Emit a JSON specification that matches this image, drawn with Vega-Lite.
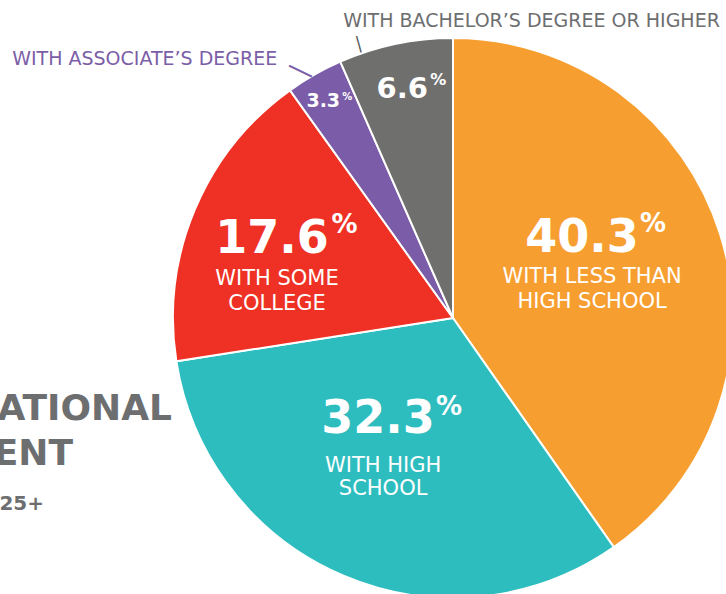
{
  "$schema": "https://vega.github.io/schema/vega-lite/v6.json",
  "width": 546,
  "height": 552,
  "autosize": {"type": "none"},
  "padding": {"left": 180, "top": 42, "right": 0, "bottom": 0},
  "background": "white",
  "config": {"view": {"stroke": null}},
  "data": {"values": [
    {"cat": "Less than high school", "pct": 40.3, "idx": 1, "sub": "WITH LESS THAN\nHIGH SCHOOL"},
    {"cat": "High school", "pct": 32.3, "idx": 2, "sub": "WITH HIGH\nSCHOOL"},
    {"cat": "Some college", "pct": 17.6, "idx": 3, "sub": "WITH SOME\nCOLLEGE"},
    {"cat": "Associate's degree", "pct": 3.3, "idx": 4, "sub": "WITH ASSOCIATE’S DEGREE"},
    {"cat": "Bachelor's degree or higher", "pct": 6.6, "idx": 5, "sub": "WITH BACHELOR’S DEGREE OR HIGHER"}
  ]},
  "layer": [
    {
      "mark": {"type": "arc", "outerRadius": 280, "stroke": "white", "strokeWidth": 2},
      "encoding": {
        "theta": {"field": "pct", "type": "quantitative", "stack": true},
        "order": {"field": "idx", "type": "quantitative"},
        "color": {"field": "cat", "type": "nominal", "legend": null,
          "scale": {"domain": ["Less than high school", "High school", "Some college", "Associate's degree", "Bachelor's degree or higher"],
                    "range": ["#F79E31", "#2EBDBF", "#EE3124", "#7A5CA8", "#6F6F6E"]}}
      }
    },
    {
      "mark": {"type": "text", "radius": 150, "dx": -14, "dy": -21, "font": "DejaVu Sans", "fontWeight": "bold", "fontSize": 46, "fill": "white", "align": "center", "baseline": "alphabetic"},
      "encoding": {
        "theta": {"field": "pct", "type": "quantitative", "stack": true},
        "order": {"field": "idx", "type": "quantitative"},
        "text": {"condition": {"test": "datum.idx === 1", "field": "pct", "type": "quantitative", "format": ".1f"}, "value": ""}
      }
    },
    {
      "mark": {"type": "text", "radius": 150, "dx": 44, "dy": -41, "font": "DejaVu Sans", "fontWeight": "bold", "fontSize": 26, "fill": "white", "align": "left", "baseline": "alphabetic"},
      "encoding": {
        "theta": {"field": "pct", "type": "quantitative", "stack": true},
        "order": {"field": "idx", "type": "quantitative"},
        "text": {"condition": {"test": "datum.idx === 1", "value": "%"}, "value": ""}
      }
    },
    {
      "mark": {"type": "text", "radius": 150, "dx": -4, "dy": 10, "font": "DejaVu Sans", "fontSize": 21, "fill": "white", "align": "center", "baseline": "alphabetic", "lineBreak": "\n", "lineHeight": 25},
      "encoding": {
        "theta": {"field": "pct", "type": "quantitative", "stack": true},
        "order": {"field": "idx", "type": "quantitative"},
        "text": {"condition": {"test": "datum.idx === 1", "field": "sub", "type": "nominal"}, "value": ""}
      }
    },
    {
      "mark": {"type": "text", "radius": 120, "dx": -28, "dy": 4.5, "font": "DejaVu Sans", "fontWeight": "bold", "fontSize": 46, "fill": "white", "align": "center", "baseline": "alphabetic"},
      "encoding": {
        "theta": {"field": "pct", "type": "quantitative", "stack": true},
        "order": {"field": "idx", "type": "quantitative"},
        "text": {"condition": {"test": "datum.idx === 2", "field": "pct", "type": "quantitative", "format": ".1f"}, "value": ""}
      }
    },
    {
      "mark": {"type": "text", "radius": 120, "dx": 30, "dy": -13.5, "font": "DejaVu Sans", "fontWeight": "bold", "fontSize": 26, "fill": "white", "align": "left", "baseline": "alphabetic"},
      "encoding": {
        "theta": {"field": "pct", "type": "quantitative", "stack": true},
        "order": {"field": "idx", "type": "quantitative"},
        "text": {"condition": {"test": "datum.idx === 2", "value": "%"}, "value": ""}
      }
    },
    {
      "mark": {"type": "text", "radius": 120, "dx": -23, "dy": 43.5, "font": "DejaVu Sans", "fontSize": 21, "fill": "white", "align": "center", "baseline": "alphabetic", "lineBreak": "\n", "lineHeight": 23},
      "encoding": {
        "theta": {"field": "pct", "type": "quantitative", "stack": true},
        "order": {"field": "idx", "type": "quantitative"},
        "text": {"condition": {"test": "datum.idx === 2", "field": "sub", "type": "nominal"}, "value": ""}
      }
    },
    {
      "mark": {"type": "text", "radius": 180, "dx": -15, "dy": 5, "font": "DejaVu Sans", "fontWeight": "bold", "fontSize": 46, "fill": "white", "align": "center", "baseline": "alphabetic"},
      "encoding": {
        "theta": {"field": "pct", "type": "quantitative", "stack": true},
        "order": {"field": "idx", "type": "quantitative"},
        "text": {"condition": {"test": "datum.idx === 3", "field": "pct", "type": "quantitative", "format": ".1f"}, "value": ""}
      }
    },
    {
      "mark": {"type": "text", "radius": 180, "dx": 44.5, "dy": -15, "font": "DejaVu Sans", "fontWeight": "bold", "fontSize": 26, "fill": "white", "align": "left", "baseline": "alphabetic"},
      "encoding": {
        "theta": {"field": "pct", "type": "quantitative", "stack": true},
        "order": {"field": "idx", "type": "quantitative"},
        "text": {"condition": {"test": "datum.idx === 3", "value": "%"}, "value": ""}
      }
    },
    {
      "mark": {"type": "text", "radius": 180, "dx": -10, "dy": 37, "font": "DejaVu Sans", "fontSize": 21, "fill": "white", "align": "center", "baseline": "alphabetic", "lineBreak": "\n", "lineHeight": 25},
      "encoding": {
        "theta": {"field": "pct", "type": "quantitative", "stack": true},
        "order": {"field": "idx", "type": "quantitative"},
        "text": {"condition": {"test": "datum.idx === 3", "field": "sub", "type": "nominal"}, "value": ""}
      }
    },
    {
      "mark": {"type": "text", "radius": 250, "dx": -6, "dy": 6, "font": "DejaVu Sans", "fontWeight": "bold", "fontSize": 19, "fill": "white", "align": "center", "baseline": "alphabetic"},
      "encoding": {
        "theta": {"field": "pct", "type": "quantitative", "stack": true},
        "order": {"field": "idx", "type": "quantitative"},
        "text": {"condition": {"test": "datum.idx === 4", "field": "pct", "type": "quantitative", "format": ".1f"}, "value": ""}
      }
    },
    {
      "mark": {"type": "text", "radius": 250, "dx": 13, "dy": -1, "font": "DejaVu Sans", "fontWeight": "bold", "fontSize": 10, "fill": "white", "align": "left", "baseline": "alphabetic"},
      "encoding": {
        "theta": {"field": "pct", "type": "quantitative", "stack": true},
        "order": {"field": "idx", "type": "quantitative"},
        "text": {"condition": {"test": "datum.idx === 4", "value": "%"}, "value": ""}
      }
    },
    {
      "mark": {"type": "text", "radius": 250, "dx": -52, "dy": -36, "font": "DejaVu Sans", "fontSize": 19, "fill": "#7B5EA7", "align": "right", "baseline": "alphabetic"},
      "encoding": {
        "theta": {"field": "pct", "type": "quantitative", "stack": true},
        "order": {"field": "idx", "type": "quantitative"},
        "text": {"condition": {"test": "datum.idx === 4", "field": "sub", "type": "nominal"}, "value": ""}
      }
    },
    {
      "mark": {"type": "text", "radius": 250, "dx": -38.7, "dy": -14.6, "angle": 25.6, "font": "DejaVu Sans", "fontSize": 28, "fill": "#7B5EA7", "align": "center", "baseline": "middle"},
      "encoding": {
        "theta": {"field": "pct", "type": "quantitative", "stack": true},
        "order": {"field": "idx", "type": "quantitative"},
        "text": {"condition": {"test": "datum.idx === 4", "value": "—"}, "value": ""}
      }
    },
    {
      "mark": {"type": "text", "radius": 235, "dx": -2.5, "dy": 10, "font": "DejaVu Sans", "fontWeight": "bold", "fontSize": 29, "fill": "white", "align": "center", "baseline": "alphabetic"},
      "encoding": {
        "theta": {"field": "pct", "type": "quantitative", "stack": true},
        "order": {"field": "idx", "type": "quantitative"},
        "text": {"condition": {"test": "datum.idx === 5", "field": "pct", "type": "quantitative", "format": ".1f"}, "value": ""}
      }
    },
    {
      "mark": {"type": "text", "radius": 235, "dx": 25.5, "dy": -3, "font": "DejaVu Sans", "fontWeight": "bold", "fontSize": 16, "fill": "white", "align": "left", "baseline": "alphabetic"},
      "encoding": {
        "theta": {"field": "pct", "type": "quantitative", "stack": true},
        "order": {"field": "idx", "type": "quantitative"},
        "text": {"condition": {"test": "datum.idx === 5", "value": "%"}, "value": ""}
      }
    },
    {
      "mark": {"type": "text", "radius": 235, "dx": -61.5, "dy": -61, "font": "DejaVu Sans", "fontSize": 19, "fill": "#6D6E70", "align": "left", "baseline": "alphabetic"},
      "encoding": {
        "theta": {"field": "pct", "type": "quantitative", "stack": true},
        "order": {"field": "idx", "type": "quantitative"},
        "text": {"condition": {"test": "datum.idx === 5", "field": "sub", "type": "nominal"}, "value": ""}
      }
    },
    {
      "mark": {"type": "text", "radius": 235, "dx": -54.4, "dy": 31.6, "angle": 74.5, "font": "DejaVu Sans", "fontSize": 19, "fill": "#58595B", "align": "center", "baseline": "middle"},
      "encoding": {
        "theta": {"field": "pct", "type": "quantitative", "stack": true},
        "order": {"field": "idx", "type": "quantitative"},
        "text": {"condition": {"test": "datum.idx === 5", "value": "—"}, "value": ""}
      }
    },
    {
      "data": {"values": [{"t": "EDUCATIONAL"}]},
      "mark": {"type": "text", "dx": -281, "dy": 102, "font": "DejaVu Sans", "fontWeight": "bold", "fontSize": 36, "fill": "#6D6E70", "align": "right", "baseline": "alphabetic"},
      "encoding": {"text": {"field": "t", "type": "nominal"}}
    },
    {
      "data": {"values": [{"t": "ATTAINMENT"}]},
      "mark": {"type": "text", "dx": -380, "dy": 147, "font": "DejaVu Sans", "fontWeight": "bold", "fontSize": 36, "fill": "#6D6E70", "align": "right", "baseline": "alphabetic"},
      "encoding": {"text": {"field": "t", "type": "nominal"}}
    },
    {
      "data": {"values": [{"t": "AGES 25+"}]},
      "mark": {"type": "text", "dx": -409, "dy": 192, "font": "DejaVu Sans", "fontWeight": "bold", "fontSize": 20, "fill": "#6D6E70", "align": "right", "baseline": "alphabetic"},
      "encoding": {"text": {"field": "t", "type": "nominal"}}
    }
  ]
}
